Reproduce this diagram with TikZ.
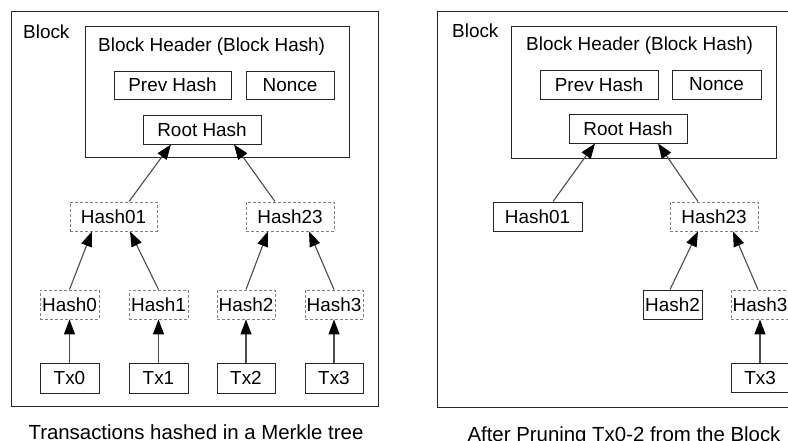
\documentclass[tikz,border=0pt]{standalone}
\usepackage{fontspec}
\setmainfont{Liberation Sans}
\usetikzlibrary{arrows.meta}
\tikzset{
  box/.style={draw=black!85, line width=0.9pt, rectangle, inner sep=0pt, minimum height=29pt,
    font=\fontsize{18.9}{22}\selectfont},
  dbox/.style={box, draw=black!50, dash pattern=on 3pt off 2pt},
  frame/.style={draw=black!85, line width=0.9pt, rectangle, inner sep=0pt},
  lbl/.style={inner sep=0pt, anchor=west, font=\fontsize{18.9}{22}\selectfont},
  captxt/.style={inner sep=0pt, anchor=base, font=\fontsize{20.4}{24}\selectfont},
  arr/.style={draw=black!70, line width=1.1pt, -{Triangle[length=15pt,width=11pt,color=black]}}
}
\begin{document}
\begin{tikzpicture}[x=1pt,y=-1pt]
\useasboundingbox (0,0) rectangle (788,441);
\clip (0,0) rectangle (788,441);
\fill[white] (0,0) rectangle (788,441);
% ---------- left panel ----------
\node[frame, minimum width=367pt, minimum height=395pt] (blockL) at (194.5,208.5) {};
\node[lbl] (blockLtxt) at (23,32) {Block};
\node[frame, minimum width=264pt, minimum height=131pt] (hdrL) at (217,91.5) {};
\node[lbl] (hdrLtxt) at (98,47) {Block Header (Block Hash)};
\node[box, minimum width=117pt, minimum height=28pt] (prevL) at (172.5,85) {Prev Hash};
\node[box, minimum width=88pt, minimum height=28pt] (nonceL) at (290,85) {Nonce};
\node[box, minimum width=118pt] (rootL) at (202,129.5) {Root Hash};
\node[dbox, minimum width=87pt] (h01L) at (113.5,216.5) {Hash01};
\node[dbox, minimum width=88pt] (h23L) at (290,216.5) {Hash23};
\node[dbox, minimum width=59pt] (h0L) at (69.5,304.5) {Hash0};
\node[dbox, minimum width=59pt] (h1L) at (158.5,304.5) {Hash1};
\node[dbox, minimum width=58pt] (h2L) at (246,304.5) {Hash2};
\node[dbox, minimum width=58pt] (h3L) at (334,304.5) {Hash3};
\node[box, minimum width=59pt, minimum height=30pt] (tx0L) at (69.5,378) {Tx0};
\node[box, minimum width=59pt, minimum height=30pt] (tx1L) at (158.5,378) {Tx1};
\node[box, minimum width=58pt, minimum height=30pt] (tx2L) at (246,378) {Tx2};
\node[box, minimum width=58pt, minimum height=30pt] (tx3L) at (334,378) {Tx3};
\draw[arr] ([xshift=15.5pt]h01L.north) -- ([xshift=-31pt]rootL.south);
\draw[arr] ([xshift=-15pt]h23L.north) -- ([xshift=32pt]rootL.south);
\draw[arr] (h0L.north) -- ([xshift=-21.5pt]h01L.south);
\draw[arr] (h1L.north) -- ([xshift=16.5pt]h01L.south);
\draw[arr] (h2L.north) -- ([xshift=-22pt]h23L.south);
\draw[arr] (h3L.north) -- ([xshift=19pt]h23L.south);
\draw[arr] (tx0L.north) -- (h0L.south);
\draw[arr] (tx1L.north) -- (h1L.south);
\draw[arr] (tx2L.north) -- (h2L.south);
\draw[arr] (tx3L.north) -- (h3L.south);
\node[captxt] (capL) at (196,439) {Transactions hashed in a Merkle tree};
% ---------- right panel ----------
\node[frame, minimum width=367pt, minimum height=396pt] (blockR) at (620.5,209) {};
\node[lbl] (blockRtxt) at (452,31) {Block};
\node[frame, minimum width=265pt, minimum height=132pt] (hdrR) at (643.5,92) {};
\node[lbl] (hdrRtxt) at (526,46) {Block Header (Block Hash)};
\node[box, minimum width=118pt] (prevR) at (599,84.5) {Prev Hash};
\node[box, minimum width=89pt] (nonceR) at (716.5,84.5) {Nonce};
\node[box, minimum width=118pt] (rootR) at (628,128.5) {Root Hash};
\node[box, minimum width=89pt] (h01R) at (537.5,216.5) {Hash01};
\node[dbox, minimum width=88pt] (h23R) at (714,216.5) {Hash23};
\node[box, minimum width=59pt] (h2R) at (672.5,304.5) {Hash2};
\node[dbox, minimum width=58pt] (h3R) at (760,304.5) {Hash3};
\node[box, minimum width=58pt] (tx3R) at (760,377.5) {Tx3};
\draw[arr] ([xshift=15.5pt]h01R.north) -- ([xshift=-33pt]rootR.south);
\draw[arr] ([xshift=-16pt]h23R.north) -- ([xshift=30pt]rootR.south);
\draw[arr] ([xshift=-2.5pt]h2R.north) -- ([xshift=-16pt]h23R.south);
\draw[arr] ([xshift=-2pt]h3R.north) -- ([xshift=19pt]h23R.south);
\draw[arr] (tx3R.north) -- (h3R.south);
\node[captxt] (capR) at (624,441) {After Pruning Tx0-2 from the Block};
\end{tikzpicture}
\end{document}
